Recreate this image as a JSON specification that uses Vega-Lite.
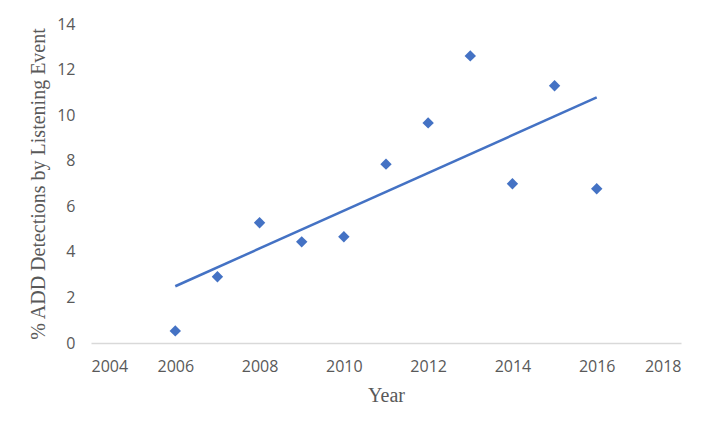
{
  "$schema": "https://vega.github.io/schema/vega-lite/v6.json",
  "width": 590,
  "height": 319,
  "autosize": "none",
  "padding": {"left": 91, "top": 24, "right": 43, "bottom": 89},
  "background": "white",
  "config": {"view": {"stroke": null}},
  "data": {
    "values": [
      {"year": 2006, "pct": 0.53},
      {"year": 2007, "pct": 2.91},
      {"year": 2008, "pct": 5.28},
      {"year": 2009, "pct": 4.44},
      {"year": 2010, "pct": 4.66},
      {"year": 2011, "pct": 7.85},
      {"year": 2012, "pct": 9.66},
      {"year": 2013, "pct": 12.6},
      {"year": 2014, "pct": 6.99},
      {"year": 2015, "pct": 11.29},
      {"year": 2016, "pct": 6.77}
    ]
  },
  "encoding": {
    "x": {
      "field": "year",
      "type": "quantitative",
      "title": "Year",
      "scale": {"domain": [2004, 2018], "nice": false, "zero": false},
      "axis": {
        "values": [2004, 2006, 2008, 2010, 2012, 2014, 2016, 2018],
        "format": "d",
        "grid": false,
        "ticks": false,
        "tickSize": 0,
        "domainColor": "#D9D9D9",
        "domainWidth": 1.5,
        "labelFont": "Open Sans",
        "labelFontSize": 16,
        "labelColor": "#595959",
        "labelPadding": 15,
        "titleFont": "Liberation Serif",
        "titleFontSize": 20,
        "titleFontWeight": "normal",
        "titleColor": "#595959",
        "titlePadding": 11
      }
    },
    "y": {
      "field": "pct",
      "type": "quantitative",
      "title": "% ADD Detections by Listening Event",
      "scale": {"domain": [0, 14], "nice": false},
      "axis": {
        "values": [0, 2, 4, 6, 8, 10, 12, 14],
        "grid": false,
        "ticks": false,
        "tickSize": 0,
        "domain": false,
        "labelFont": "Open Sans",
        "labelFontSize": 16,
        "labelColor": "#595959",
        "labelPadding": 16,
        "titleFont": "Liberation Serif",
        "titleFontSize": 20,
        "titleFontWeight": "normal",
        "titleColor": "#595959",
        "titlePadding": 8
      }
    }
  },
  "layer": [
    {
      "transform": [{"regression": "pct", "on": "year"}],
      "mark": {"type": "line", "color": "#4472C4", "strokeWidth": 2.5}
    },
    {
      "mark": {"type": "point", "shape": "diamond", "filled": true, "size": 130, "color": "#4472C4", "opacity": 1}
    }
  ]
}
